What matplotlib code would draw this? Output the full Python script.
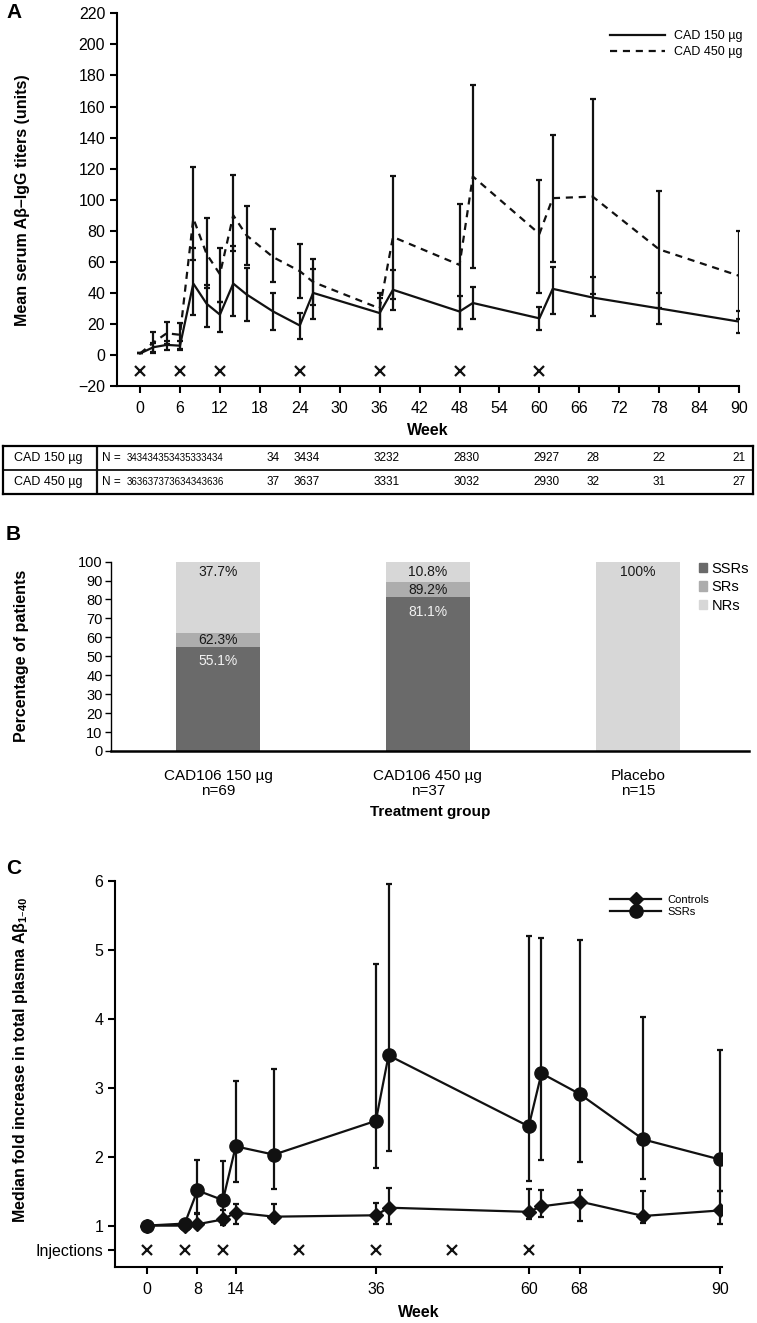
import numpy as np
import matplotlib
matplotlib.use('Agg')
import matplotlib.pyplot as plt
from matplotlib.lines import Line2D
from matplotlib.patches import Patch

plt.rcParams['font.family'] = ['Liberation Sans', 'DejaVu Sans']

# ---------------- panel A: antibody titers ----------------
weeks_a = [0, 2, 4, 6, 8, 10, 12, 14, 16, 20, 24, 26, 36, 38, 48, 50, 60, 62, 68, 78, 90]
cad150_mean = [1, 5, 6.5, 6, 46, 33, 26, 46, 39, 28, 19, 40, 27, 42, 28, 33.5, 23.6, 42.6, 37, 30, 21.5]
cad150_lo = [1, 2, 3, 3, 26, 18, 15, 25, 22, 16, 10, 23, 17, 29, 17, 23, 16, 26.5, 25, 20, 14]
cad150_hi = [1, 8, 9, 9, 69, 45, 34, 70, 56, 40, 27, 55.5, 37, 55, 38, 44, 31, 56.5, 50, 40, 28.6]
cad450_mean = [1, 8, 14, 13, 88, 65, 52, 90, 77, 63, 54, 47, 30, 76, 58, 115, 78, 101, 102, 68, 51]
cad450_lo = [1, 1, 7, 4, 61, 43, 34, 67, 58, 47, 36.5, 32, 17, 36, 17, 56, 40, 60, 39, 30, 23]
cad450_hi = [1, 15, 21, 20.5, 121, 88, 69, 116, 96, 81, 71.6, 62, 40, 115, 97, 174, 112.5, 141.5, 165, 105.5, 80]
inj_weeks = [0, 6, 12, 24, 36, 48, 60]

# N table below panel A
n150 = [34, 34, 34, 35, 34, 35, 33, 34, 34, 34, 34, 34, 32, 32, 28, 30, 29, 27, 28, 22, 21]
n450 = [36, 36, 37, 37, 36, 34, 34, 36, 36, 37, 36, 37, 33, 31, 30, 32, 29, 30, 32, 31, 27]
n_group_sizes = [9, 1, 2, 2, 2, 2, 1, 1, 1]
row_names = ['CAD 150 µg', 'CAD 450 µg']

# ---------------- panel B: responder categories ----------------
groups_b = ['CAD106 150 µg\nn=69', 'CAD106 450 µg\nn=37', 'Placebo\nn=15']
ssr_pct = [55.1, 81.1, 0]
sr_pct = [7.2, 8.1, 0]
nr_pct = [37.7, 10.8, 100]
ssr_lbl = ['55.1%', '81.1%', '']
sr_lbl = ['62.3%', '89.2%', '']
nr_lbl = ['37.7%', '10.8%', '100%']

# ---------------- panel C: plasma Abeta fold increase ----------------
weeks_c = [0, 6, 8, 12, 14, 20, 36, 38, 60, 62, 68, 78, 90]
ssr_med = [1.0, 1.03, 1.51, 1.37, 2.15, 2.03, 2.52, 3.47, 2.44, 3.21, 2.91, 2.25, 1.96]
ssr_lo = [1.0, 1.03, 1.17, 1.23, 1.64, 1.53, 1.83, 2.08, 1.65, 1.95, 1.93, 1.68, 1.5]
ssr_hi = [1.0, 1.03, 1.95, 1.94, 3.1, 3.27, 4.79, 5.96, 5.2, 5.18, 5.14, 4.02, 3.55]
ctl_med = [1.0, 1.0, 1.02, 1.09, 1.19, 1.13, 1.15, 1.26, 1.2, 1.28, 1.35, 1.14, 1.22]
ctl_lo = [1.0, 0.93, 0.97, 1.01, 1.03, 1.05, 1.02, 1.03, 1.1, 1.12, 1.06, 1.04, 1.02]
ctl_hi = [1.0, 1.05, 1.19, 1.28, 1.32, 1.32, 1.33, 1.54, 1.53, 1.51, 1.52, 1.5, 1.5]
xticks_c = [0, 8, 14, 36, 60, 68, 90]

NARROW = ['Liberation Sans Narrow', 'Liberation Sans']


def yerr(mean, lo, hi):
    mean, lo, hi = np.array(mean), np.array(lo), np.array(hi)
    return [mean - lo, hi - mean]


def style_axes(ax):
    for s in ['top', 'right']:
        ax.spines[s].set_visible(False)
    for s in ['left', 'bottom']:
        ax.spines[s].set_linewidth(1.5)
    ax.tick_params(direction='out', length=5, width=1.5, labelsize=11.5)


fig = plt.figure(figsize=(7.57, 13.23), dpi=100)

# ---- A ----
ax_a = fig.add_axes([0.1546, 0.7082, 0.8217, 0.2817])
ax_a.errorbar(weeks_a, cad450_mean, yerr=yerr(cad450_mean, cad450_lo, cad450_hi), fmt='none',
              ecolor='#111111', elinewidth=1.6, capsize=2.5, capthick=1.6)
ax_a.errorbar(weeks_a, cad150_mean, yerr=yerr(cad150_mean, cad150_lo, cad150_hi), fmt='none',
              ecolor='#111111', elinewidth=1.6, capsize=2.5, capthick=1.6)
ax_a.plot(weeks_a, cad150_mean, color='#111111', lw=1.6, label='CAD 150 µg')
ax_a.plot(weeks_a, cad450_mean, color='#111111', lw=1.6, ls=(0, (3.2, 2.6)), label='CAD 450 µg')
ax_a.plot(inj_weeks, [-10] * len(inj_weeks), 'x', color='#111111', ms=7, mew=1.6)
ax_a.set_xlim(-3.46, 90)
ax_a.set_ylim(-20, 220)
ax_a.set_xticks(range(0, 91, 6))
ax_a.set_yticks(range(-20, 221, 20))
style_axes(ax_a)
ax_a.tick_params(axis='x', pad=6)
ax_a.set_xlabel('Week', fontsize=11.5, fontweight='bold')
ax_a.xaxis.set_label_coords(0.5, -0.1)
ax_a.set_ylabel('Mean serum Aβ–IgG titers (units)', fontsize=11.5, fontweight='bold')
ax_a.yaxis.set_label_coords(-0.14, 0.5)
ax_a.legend(frameon=False, fontsize=9, loc='upper left', bbox_to_anchor=(0.775, 0.985),
            handlelength=4.4, handletextpad=0.7, labelspacing=0.3)

# ---- table ----
ax_t = fig.add_axes([3 / 757, 1 - 494 / 1323, 750 / 757, 48 / 1323])
ax_t.set_xlim(-20.6, 92.1)
ax_t.set_ylim(0, 2)
ax_t.set_xticks([])
ax_t.set_yticks([])
for s in ax_t.spines.values():
    s.set_linewidth(1.6)
ax_t.axhline(1, color='#111111', lw=1.3)
ax_t.axvline(-6.46, color='#111111', lw=1.6)
bounds = np.concatenate([[0], np.cumsum(n_group_sizes)])
for row_y, name, nvals in [(1.5, row_names[0], n150), (0.5, row_names[1], n450)]:
    ax_t.text(-13.8, row_y, name, ha='center', va='center', fontsize=9)
    ax_t.text(-5.75, row_y, 'N =', ha='left', va='center', fontsize=8.5, family=NARROW)
    for g in range(len(n_group_sizes)):
        s = ''.join(str(v) for v in nvals[bounds[g]:bounds[g + 1]])
        if g == 0:
            ax_t.text(-1.95, row_y, s, ha='left', va='center', fontsize=7.0, family=NARROW)
        else:
            xc = np.mean(weeks_a[bounds[g]:bounds[g + 1]])
            ax_t.text(xc, row_y, s, ha='center', va='center', fontsize=8.5, family=NARROW)

# ---- B ----
ax_b = fig.add_axes([0.1466, 0.4324, 0.8428, 0.1431])
xb = np.arange(len(groups_b))
c_ssr, c_sr, c_nr = '#6a6a6a', '#adadad', '#d7d7d7'
ssr_arr, sr_arr, nr_arr = np.array(ssr_pct), np.array(sr_pct), np.array(nr_pct)
ax_b.bar(xb, ssr_arr, width=0.4, color=c_ssr, label='SSRs')
ax_b.bar(xb, sr_arr, width=0.4, bottom=ssr_arr, color=c_sr, label='SRs')
ax_b.bar(xb, nr_arr, width=0.4, bottom=ssr_arr + sr_arr, color=c_nr, label='NRs')
for i in range(len(groups_b)):
    if ssr_lbl[i]:
        ax_b.text(xb[i], ssr_arr[i] - 7.5, ssr_lbl[i], ha='center', va='center', fontsize=10, color='#f2f2f2')
    if sr_lbl[i]:
        ax_b.text(xb[i], ssr_arr[i] + sr_arr[i] / 2, sr_lbl[i], ha='center', va='center', fontsize=10, color='#1a1a1a')
    ax_b.text(xb[i], 100 - 5.3, nr_lbl[i], ha='center', va='center', fontsize=10, color='#1a1a1a')
ax_b.set_xlim(-0.51, 2.53)
ax_b.set_ylim(0, 100)
ax_b.set_yticks(range(0, 101, 10))
ax_b.set_xticks(xb)
ax_b.set_xticklabels(groups_b, fontsize=11, linespacing=1.05)
for s in ['top', 'right']:
    ax_b.spines[s].set_visible(False)
ax_b.spines['bottom'].set_linewidth(1.8)
ax_b.spines['left'].set_linewidth(1.0)
ax_b.tick_params(axis='y', direction='out', length=4, width=1, labelsize=10.5, pad=2)
ax_b.tick_params(axis='x', length=0, pad=13)
ax_b.set_xlabel('Treatment group', fontsize=11, fontweight='bold')
ax_b.xaxis.set_label_coords(0.5, -0.285)
ax_b.set_ylabel('Percentage of patients', fontsize=11.5, fontweight='bold')
ax_b.yaxis.set_label_coords(-0.128, 0.5)
ax_b.legend(handles=[Patch(color=c_ssr), Patch(color=c_sr), Patch(color=c_nr)],
            labels=['SSRs', 'SRs', 'NRs'], frameon=False, fontsize=10.5, loc='upper left',
            bbox_to_anchor=(0.912, 1.03), handlelength=0.6, handleheight=0.6,
            handletextpad=0.3, labelspacing=0.3, borderaxespad=0)

# ---- C ----
ax_c = fig.add_axes([0.1519, 0.0426, 0.8015, 0.2915])
inj_y = 0.64
ax_c.errorbar(weeks_c, ssr_med, yerr=yerr(ssr_med, ssr_lo, ssr_hi), fmt='none',
              ecolor='#111111', elinewidth=1.6, capsize=2.5, capthick=1.6)
ax_c.errorbar(weeks_c, ctl_med, yerr=yerr(ctl_med, ctl_lo, ctl_hi), fmt='none',
              ecolor='#111111', elinewidth=1.6, capsize=2.5, capthick=1.6)
ax_c.plot(weeks_c, ctl_med, color='#111111', lw=1.6, marker='D', ms=7, label='Controls')
ax_c.plot(weeks_c, ssr_med, color='#111111', lw=1.6, marker='o', ms=9.5, label='SSRs')
ax_c.plot(inj_weeks, [inj_y] * len(inj_weeks), 'x', color='#111111', ms=7, mew=1.6)
ax_c.set_xlim(-4.95, 90.3)
ax_c.set_ylim(0.405, 6)
ax_c.set_xticks(xticks_c)
ax_c.set_yticks([inj_y, 1, 2, 3, 4, 5, 6])
ax_c.set_yticklabels(['Injections', '1', '2', '3', '4', '5', '6'])
style_axes(ax_c)
ax_c.tick_params(axis='x', pad=6)
ax_c.set_xlabel('Week', fontsize=11.5, fontweight='bold')
ax_c.xaxis.set_label_coords(0.5, -0.1)
ax_c.set_ylabel('Median fold increase in total plasma Aβ$_{\\mathregular{1–40}}$', fontsize=11.5, fontweight='bold')
ax_c.yaxis.set_label_coords(-0.14, 0.536)
ax_c.legend(frameon=False, fontsize=8, loc='upper left', bbox_to_anchor=(0.8, 0.99),
            handlelength=4.6, handletextpad=0.5, labelspacing=0.2)

# panel letters
fig.text(0.008, 1 - 13 / 1323, 'A', fontsize=15, fontweight='bold', va='center')
fig.text(0.008, 1 - 535 / 1323, 'B', fontsize=15, fontweight='bold', va='center')
fig.text(0.008, 1 - 868 / 1323, 'C', fontsize=15, fontweight='bold', va='center')

fig.savefig('out.png', dpi=100)
